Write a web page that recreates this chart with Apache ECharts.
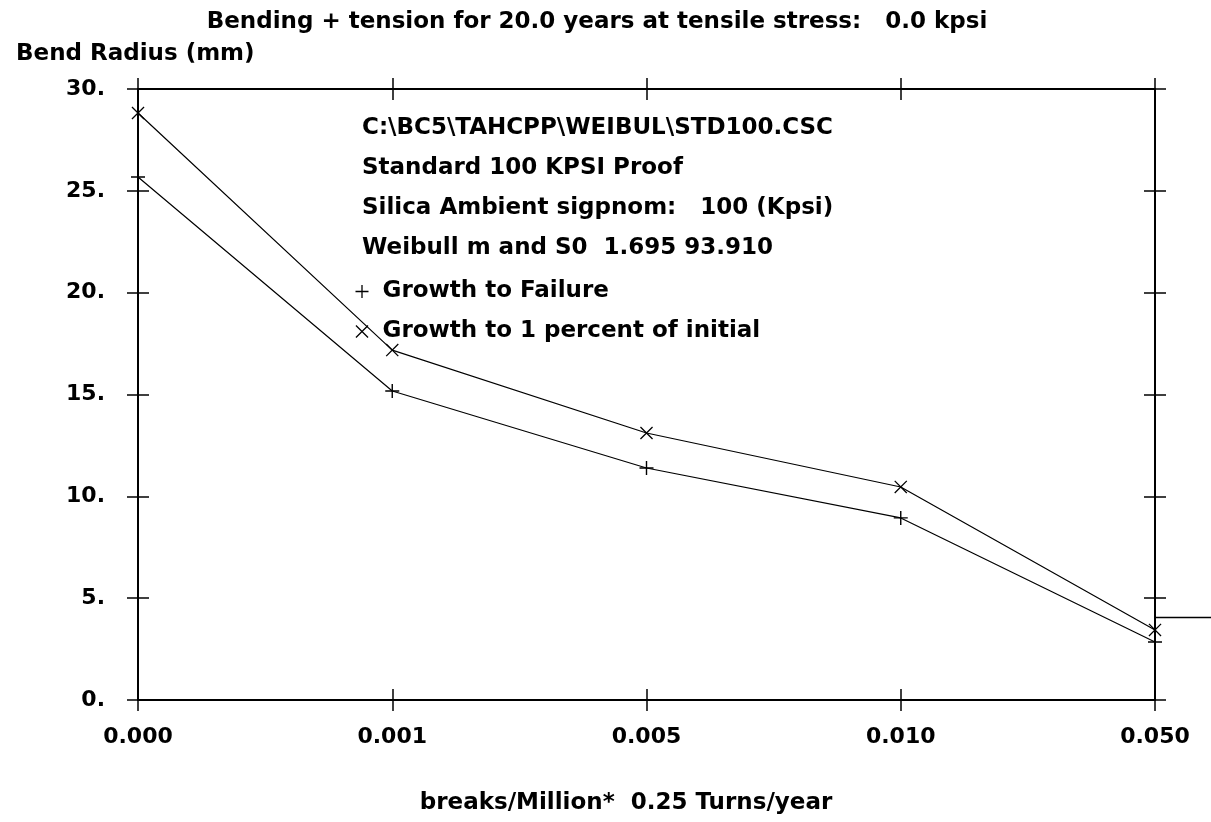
<!DOCTYPE html>
<html>
<head>
<meta charset="utf-8">
<script src="https://cdn.jsdelivr.net/npm/echarts@6/dist/echarts.min.js"></script>
<style>
  html, body { margin: 0; padding: 0; background: #fff; }
  #chart { width: 1211px; height: 822px; }
</style>
</head>
<body>
<div id="chart"></div>
<script>
// data
var breakRates = ['0.000', '0.001', '0.005', '0.010', '0.050'];
var growthToFailure = [25.68, 15.17, 11.39, 8.94, 2.85];      // + markers
var growthToOnePercent = [28.82, 17.18, 13.11, 10.46, 3.44];  // x markers
var seriesNames = ['Growth to Failure', 'Growth to 1 percent of initial'];
var yTicks = { min: 0, max: 30, step: 5 };
var strayRightMark = 4.07;   // the short line sticking out right of the frame

var titleText = 'Bending + tension for 20.0 years at tensile stress:   0.0 kpsi';
var yName = 'Bend Radius (mm)';
var xName = 'breaks/Million*  0.25 Turns/year';
var infoLines = [
  'C:\\BC5\\TAHCPP\\WEIBUL\\STD100.CSC',
  'Standard 100 KPSI Proof',
  'Silica Ambient sigpnom:   100 (Kpsi)',
  'Weibull m and S0  1.695 93.910'
];

var FONT = 'DejaVu Sans';
var PLUS = 'path://M0,4.5H10V5.5H0Z M4.5,0H5.5V10H4.5Z';
var CROSS = 'path://M0,0.7L0.7,0L10,9.3L9.3,10Z M9.3,0L10,0.7L0.7,10L0,9.3Z';

var txt = { fontFamily: FONT, fontWeight: 'bold', fontSize: 23, color: '#000' };
var gridBox = { left: 138, right: 56, top: 89, bottom: 122 };
var lineSt = { color: '#000', width: 2 };
var tickSt = { color: '#000', width: 1.5 };

// two grids on the same box: one gives the outside ticks, the other the inside ones
function xAx(grid, pos, inside, extra) {
  return Object.assign({
    type: 'category', gridIndex: grid, position: pos, data: breakRates,
    boundaryGap: false,
    axisLine: { show: !inside, onZero: false, lineStyle: lineSt },
    axisTick: { show: true, inside: inside, length: 11, lineStyle: tickSt },
    axisLabel: { show: false },
    splitLine: { show: false }
  }, extra || {});
}
function yAx(grid, pos, inside, extra) {
  return Object.assign({
    type: 'value', gridIndex: grid, position: pos,
    min: yTicks.min, max: yTicks.max, interval: yTicks.step,
    axisLine: { show: !inside, onZero: false, lineStyle: lineSt },
    axisTick: { show: true, inside: inside, length: 11, lineStyle: tickSt },
    axisLabel: { show: false },
    splitLine: { show: false }
  }, extra || {});
}

var chart = echarts.init(document.getElementById('chart'));
chart.setOption({
  animation: false,
  backgroundColor: '#fff',
  title: [
    { text: titleText, left: 597, top: 11, padding: 0, textAlign: 'center', textStyle: txt },
    { text: yName, left: 16, top: 43, padding: 0, textStyle: txt },
    { text: infoLines.join('\n'), left: 362, top: 108, padding: 0,
      textStyle: Object.assign({ lineHeight: 40 }, txt) }
  ],
  legend: {
    orient: 'vertical', left: 355.5, top: 280, padding: 0,
    itemWidth: 13, itemHeight: 13, itemGap: 17,
    textStyle: Object.assign({ padding: [0, 0, 0, 9] }, txt),
    data: [
      { name: seriesNames[0], icon: PLUS },
      { name: seriesNames[1], icon: CROSS }
    ]
  },
  grid: [
    Object.assign({}, gridBox),
    Object.assign({}, gridBox)
  ],
  xAxis: [
    xAx(0, 'bottom', false, {
      axisLabel: { show: true, margin: 26, fontFamily: FONT, fontWeight: 'bold', fontSize: 22, color: '#000' },
      name: xName, nameLocation: 'middle', nameGap: 92,
      nameTextStyle: Object.assign({ padding: [0, 41, 0, 0] }, txt)
    }),
    xAx(0, 'top', false),
    xAx(1, 'bottom', true),
    xAx(1, 'top', true)
  ],
  yAxis: [
    yAx(0, 'left', false, {
      axisLabel: { show: true, margin: 33, fontFamily: FONT, fontWeight: 'bold', fontSize: 22, color: '#000',
        formatter: function (v) { return v + '.'; } }
    }),
    yAx(0, 'right', false),
    yAx(1, 'left', true),
    yAx(1, 'right', true)
  ],
  series: [
    {
      name: seriesNames[0], type: 'line', xAxisIndex: 0, yAxisIndex: 0,
      data: growthToFailure, symbol: PLUS, symbolSize: 14, showAllSymbol: true,
      itemStyle: { color: '#000' }, lineStyle: { color: '#000', width: 1.2 },
      emphasis: { disabled: true }, z: 3
    },
    {
      name: seriesNames[1], type: 'line', xAxisIndex: 0, yAxisIndex: 0,
      data: growthToOnePercent, symbol: CROSS, symbolSize: 13, showAllSymbol: true,
      itemStyle: { color: '#000' }, lineStyle: { color: '#000', width: 1.2 },
      emphasis: { disabled: true }, z: 3
    }
  ]
});

// the stray horizontal stroke outside the right edge of the frame
var p = chart.convertToPixel({ gridIndex: 0 }, [breakRates.length - 1, strayRightMark]);
chart.setOption({
  graphic: [{
    type: 'line', silent: true,
    shape: { x1: p[0], y1: Math.round(p[1]) + 0.5, x2: 1211, y2: Math.round(p[1]) + 0.5 },
    style: { stroke: '#000', lineWidth: 1.5 }
  }]
});
</script>
</body>
</html>
